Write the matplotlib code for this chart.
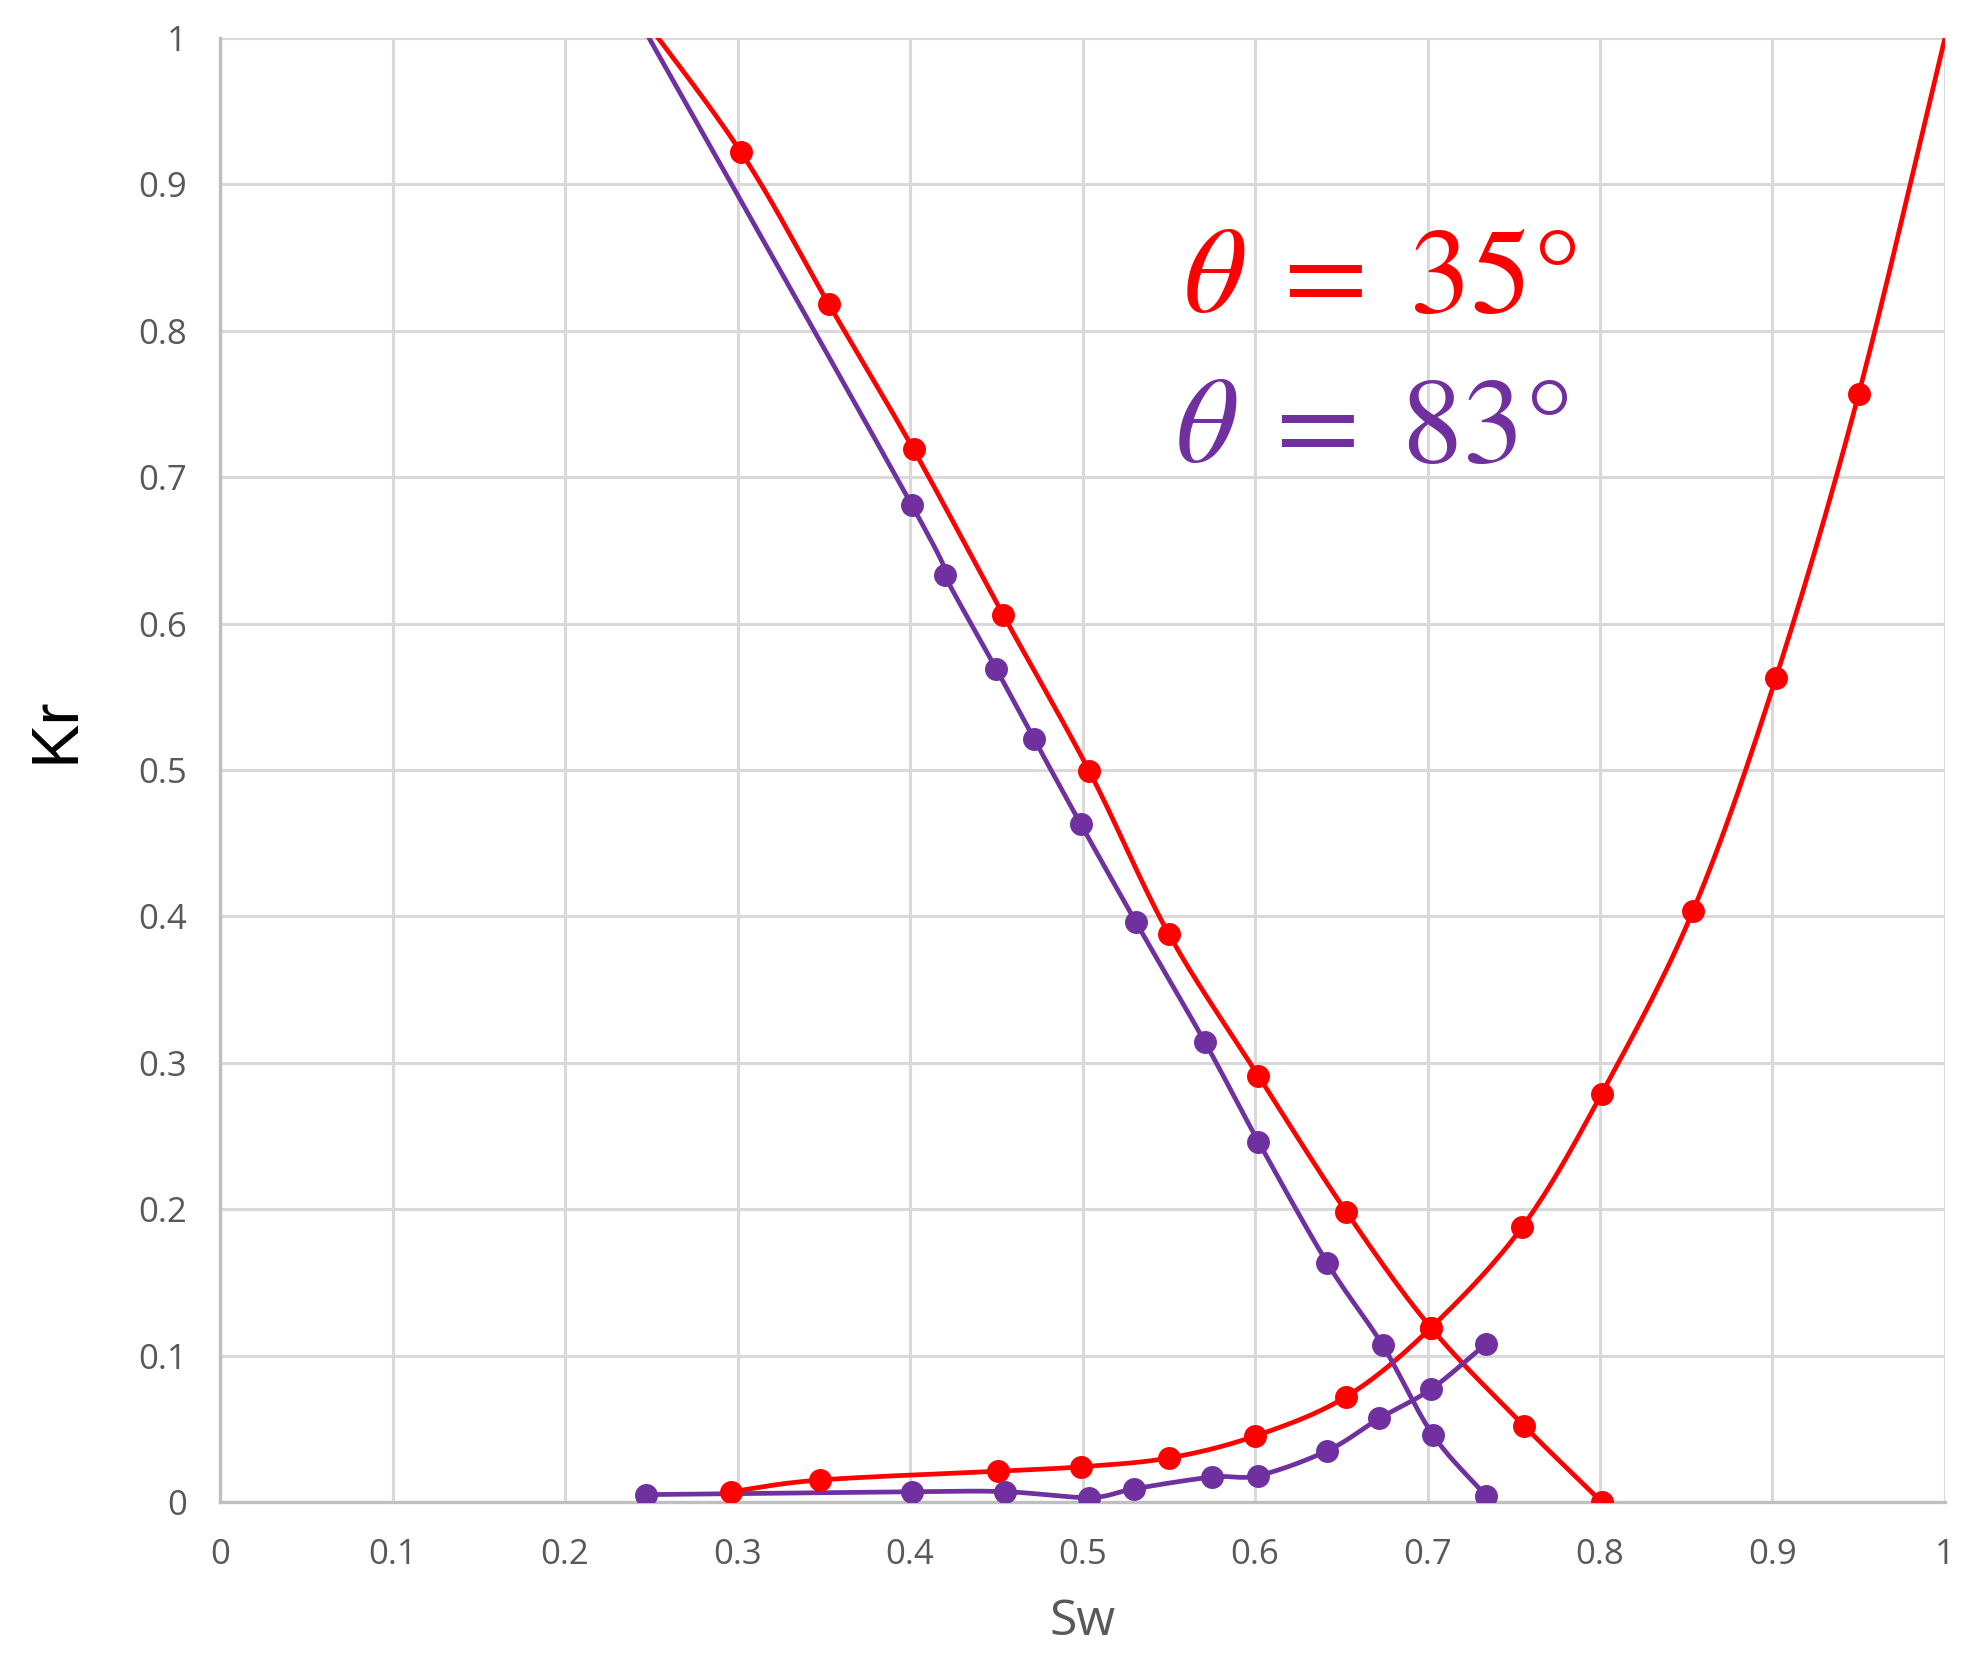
import numpy as np
import matplotlib
matplotlib.use("Agg")
import matplotlib.pyplot as plt

# theta = 35 deg (red)
sw_kro_35 = [0.235, 0.302, 0.353, 0.402, 0.454, 0.504, 0.550, 0.602, 0.653, 0.702, 0.756, 0.801]
kro_35 = [1.03, 0.922, 0.818, 0.719, 0.606, 0.499, 0.388, 0.291, 0.198, 0.119, 0.052, 0.0]
sw_krw_35 = [0.296, 0.348, 0.451, 0.499, 0.550, 0.600, 0.653, 0.702, 0.755, 0.801, 0.854, 0.902, 0.950, 1.0]
krw_35 = [0.007, 0.015, 0.021, 0.024, 0.030, 0.045, 0.072, 0.119, 0.188, 0.279, 0.404, 0.563, 0.757, 1.0]

# theta = 83 deg (purple)
sw_kro_83 = [0.22, 0.401, 0.420, 0.450, 0.472, 0.499, 0.531, 0.571, 0.602, 0.642, 0.674, 0.703, 0.734]
kro_83 = [1.06, 0.681, 0.633, 0.569, 0.521, 0.463, 0.396, 0.314, 0.246, 0.163, 0.107, 0.046, 0.004]
sw_krw_83 = [0.247, 0.401, 0.455, 0.504, 0.530, 0.575, 0.602, 0.642, 0.672, 0.702, 0.734]
krw_83 = [0.005, 0.007, 0.007, 0.003, 0.009, 0.017, 0.018, 0.035, 0.057, 0.077, 0.108]

ticks = [0, 0.1, 0.2, 0.3, 0.4, 0.5, 0.6, 0.7, 0.8, 0.9, 1]
tick_labels = ["0", "0.1", "0.2", "0.3", "0.4", "0.5", "0.6", "0.7", "0.8", "0.9", "1"]

RED = "#FF0000"
PURPLE = "#7030A0"
GRID = "#D9D9D9"
TXT = "#595959"


def smooth(x, y, n=30):
    # catmull-rom through the points, roughly like excel's smoothed line
    p = np.column_stack([x, y]).astype(float)
    p = np.vstack([2 * p[0] - p[1], p, 2 * p[-1] - p[-2]])
    out = []
    t = np.linspace(0, 1, n, endpoint=False)[:, None]
    for i in range(1, len(p) - 2):
        p0, p1, p2, p3 = p[i - 1], p[i], p[i + 1], p[i + 2]
        seg = 0.5 * ((2 * p1) + (-p0 + p2) * t + (2 * p0 - 5 * p1 + 4 * p2 - p3) * t**2
                     + (-p0 + 3 * p1 - 3 * p2 + p3) * t**3)
        out.append(seg)
    out.append(p[-2][None, :])
    out = np.vstack(out)
    return out[:, 0], out[:, 1]


plt.rcParams["mathtext.fontset"] = "stix"

fig = plt.figure(figsize=(19.74, 16.69), dpi=100)
ax = fig.add_axes([0.1115, 0.1001, 0.8738, 0.8771])

series = [
    (sw_kro_35, kro_35, RED, None),
    (sw_krw_35, krw_35, RED, slice(0, -1)),
    (sw_kro_83, kro_83, PURPLE, None),
    (sw_krw_83, krw_83, PURPLE, None),
]
for x, y, c, mev in series:
    sx, sy = smooth(x, y)
    ax.plot(sx, sy, color=c, lw=3.4, zorder=3, solid_capstyle="round")
    ax.plot(x, y, "o", color=c, ms=15.5, markevery=mev, zorder=4)

ax.set_xlim(0, 1)
ax.set_ylim(0, 1)
ax.set_xticks(ticks)
ax.set_yticks(ticks)
ax.set_xticklabels(tick_labels)
ax.set_yticklabels(tick_labels)
ax.tick_params(length=0, labelsize=25, labelcolor=TXT)
ax.tick_params(axis="y", pad=24)
ax.tick_params(axis="x", pad=26)
for lab in ax.get_xticklabels() + ax.get_yticklabels():
    lab.set_fontfamily("Open Sans")
ax.grid(True, color=GRID, lw=2.2, zorder=0)
ax.set_axisbelow(True)
for s in ["top", "right"]:
    ax.spines[s].set_visible(False)
for s in ["left", "bottom"]:
    ax.spines[s].set_color("#BFBFBF")
    ax.spines[s].set_linewidth(2.4)

fig.text(1083 / 1974, 1 - 1622 / 1669, "Sw", ha="center", va="center",
         fontsize=36, color=TXT, family="Open Sans")
fig.text(57 / 1974, 1 - 730 / 1669, "Kr", ha="center", va="center", rotation=90,
         fontsize=48, color="black", family="Liberation Sans")

fig.text(1380 / 1974, 1 - 279 / 1669, r"$\theta\;=\;35°$", ha="center", va="center",
         fontsize=88, color=RED)
fig.text(1372 / 1974, 1 - 428 / 1669, r"$\theta\;=\;83°$", ha="center", va="center",
         fontsize=88, color=PURPLE)

fig.savefig("out.png", dpi=100, facecolor="white")
